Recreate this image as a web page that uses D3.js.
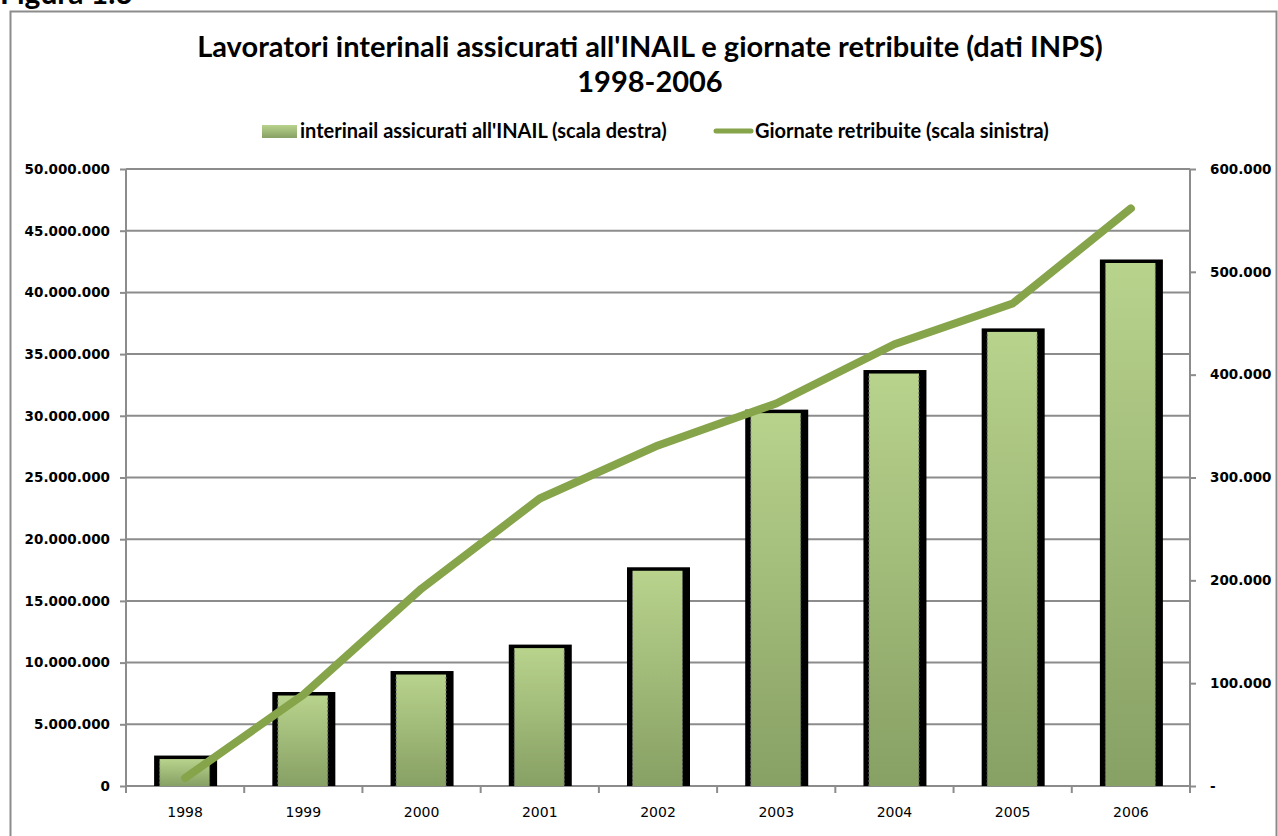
<!DOCTYPE html>
<html>
<head>
<meta charset="utf-8">
<script src="https://cdn.jsdelivr.net/npm/d3@7"></script>
<style>
  body { margin: 0; background: #fff; }
</style>
</head>
<body>
<svg id="chart" width="1278" height="836"></svg>
<script>
// data
var years = ["1998","1999","2000","2001","2002","2003","2004","2005","2006"];
var assicurati = [29600, 91400, 111800, 137500, 212700, 366000, 404500, 445000, 512000]; // right scale
var giornate = [650000, 7400000, 16000000, 23300000, 27600000, 31000000, 35800000, 39100000, 46800000]; // left scale
var leftTicks = [0, 5000000, 10000000, 15000000, 20000000, 25000000, 30000000, 35000000, 40000000, 45000000, 50000000];
var rightTicks = [0, 100000, 200000, 300000, 400000, 500000, 600000];

var svg = d3.select("#chart");
var it = d3.formatLocale({decimal: ",", thousands: ".", grouping: [3], currency: ["", ""]});
var fmt = it.format(",");

var pLeft = 126, pRight = 1190, pTop = 169, pBottom = 786;
var titleFont = "Lato, sans-serif";
var axisFont = "DejaVu Sans, sans-serif";

var x = d3.scaleBand().domain(years).range([pLeft, pRight]).padding(0);
var yL = d3.scaleLinear().domain([0, 50000000]).range([pBottom, pTop]);
var yR = d3.scaleLinear().domain([0, 600000]).range([pBottom, pTop]);

// frame + figure label
svg.append("rect").attr("x", 10.5).attr("y", 11.5).attr("width", 1266).attr("height", 900)
  .attr("fill", "none").attr("stroke", "#8c8c8c").attr("stroke-width", 2);
svg.append("text").attr("x", 0).attr("y", 4).attr("font-family", titleFont)
  .attr("font-weight", "bold").attr("font-size", "30px").text("Figura 1.6");

// title
var title = svg.append("text").attr("text-anchor", "middle").attr("font-family", titleFont)
  .attr("font-weight", "bold").attr("font-size", "29px").attr("fill", "#000");
title.append("tspan").attr("x", 650).attr("y", 57).text("Lavoratori interinali assicurati all'INAIL e giornate retribuite (dati INPS)");
title.append("tspan").attr("x", 650).attr("y", 92).text("1998-2006");

// gradient for bars
var defs = svg.append("defs");
var grad = defs.append("linearGradient").attr("id", "barg").attr("x1", 0).attr("y1", 0).attr("x2", 0).attr("y2", 1);
grad.append("stop").attr("offset", "0%").attr("stop-color", "#b8d38c");
grad.append("stop").attr("offset", "100%").attr("stop-color", "#87a064");

// legend
svg.append("rect").attr("x", 262).attr("y", 125).attr("width", 35).attr("height", 13).attr("fill", "url(#barg)");
svg.append("text").attr("x", 300).attr("y", 138).attr("font-family", titleFont).attr("font-weight", "bold")
  .attr("font-size", "20px").text("interinail assicurati all'INAIL (scala destra)");
svg.append("line").attr("x1", 716).attr("x2", 751).attr("y1", 131).attr("y2", 131)
  .attr("stroke", "#86a44a").attr("stroke-width", 5).attr("stroke-linecap", "round");
svg.append("text").attr("x", 755).attr("y", 138).attr("font-family", titleFont).attr("font-weight", "bold")
  .attr("font-size", "20px").text("Giornate retribuite (scala sinistra)");

// gridlines
svg.append("g").selectAll("line").data(leftTicks).enter().append("line")
  .attr("x1", pLeft).attr("x2", pRight)
  .attr("y1", function(d) { return yL(d); }).attr("y2", function(d) { return yL(d); })
  .attr("stroke", "#8c8c8c").attr("stroke-width", 2);

// left axis
var gl = svg.append("g").attr("transform", "translate(" + pLeft + ",0)")
  .call(d3.axisLeft(yL).tickValues(leftTicks).tickSize(6).tickPadding(10).tickFormat(fmt));
gl.attr("font-family", axisFont);
gl.selectAll("text").attr("font-size", "13.5px").attr("font-weight", "bold").attr("fill", "#000");

// right axis
var gr = svg.append("g").attr("transform", "translate(" + pRight + ",0)")
  .call(d3.axisRight(yR).tickValues(rightTicks).tickSize(6).tickPadding(14)
    .tickFormat(function(d) { return d === 0 ? "-" : fmt(d); }));
gr.attr("font-family", axisFont);
gr.selectAll("text").attr("font-size", "13.5px").attr("font-weight", "bold").attr("fill", "#000");

// bottom axis
var gb = svg.append("g").attr("transform", "translate(0," + pBottom + ")")
  .call(d3.axisBottom(x).tickSize(0).tickPadding(21));
gb.attr("font-family", axisFont);
gb.selectAll("text").attr("font-size", "14px").attr("fill", "#000");
gb.selectAll(".tick line").remove();
gb.selectAll(".bnd").data(d3.range(years.length + 1)).enter().append("line")
  .attr("x1", function(i) { return pLeft + i * x.step(); }).attr("x2", function(i) { return pLeft + i * x.step(); })
  .attr("y1", 0).attr("y2", 7).attr("stroke", "#8c8c8c").attr("stroke-width", 2);

[gl, gr, gb].forEach(function(g) {
  g.select(".domain").attr("stroke", "#8c8c8c").attr("stroke-width", 2);
  g.selectAll(".tick line").attr("stroke", "#8c8c8c").attr("stroke-width", 2);
});
gb.select(".domain").attr("d", "M" + pLeft + ",0H" + pRight);
gl.select(".domain").attr("d", "M0," + pTop + "V" + pBottom);
gr.select(".domain").attr("d", "M0," + pTop + "V" + pBottom);

// bars
function cx(d) { return x(d) + x.bandwidth() / 2; }
var bars = svg.append("g").selectAll("g").data(years).enter().append("g");
bars.append("rect")
  .attr("x", function(d) { return cx(d) - 31; })
  .attr("y", function(d, i) { return yR(assicurati[i]); })
  .attr("width", 63)
  .attr("height", function(d, i) { return pBottom - yR(assicurati[i]); })
  .attr("fill", "#000");
bars.append("rect")
  .attr("x", function(d) { return cx(d) - 25.5; })
  .attr("y", function(d, i) { return yR(assicurati[i]) + 3.5; })
  .attr("width", 50)
  .attr("height", function(d, i) { return pBottom - yR(assicurati[i]) - 3.5; })
  .attr("fill", "url(#barg)");
[-25.5, 24.5].forEach(function(off) {
  bars.append("line")
    .attr("x1", function(d) { return cx(d) + off; }).attr("x2", function(d) { return cx(d) + off; })
    .attr("y1", function(d, i) { return yR(assicurati[i]) + 6; }).attr("y2", pBottom)
    .attr("stroke", "#666").attr("stroke-width", 1).attr("stroke-dasharray", "2,2");
});

// line
var line = d3.line()
  .x(function(d, i) { return cx(years[i]); })
  .y(function(d) { return yL(d); });
svg.append("path").datum(giornate).attr("d", line)
  .attr("fill", "none").attr("stroke", "#86a44a").attr("stroke-width", 8)
  .attr("stroke-linecap", "round").attr("stroke-linejoin", "round");
</script>
</body>
</html>
